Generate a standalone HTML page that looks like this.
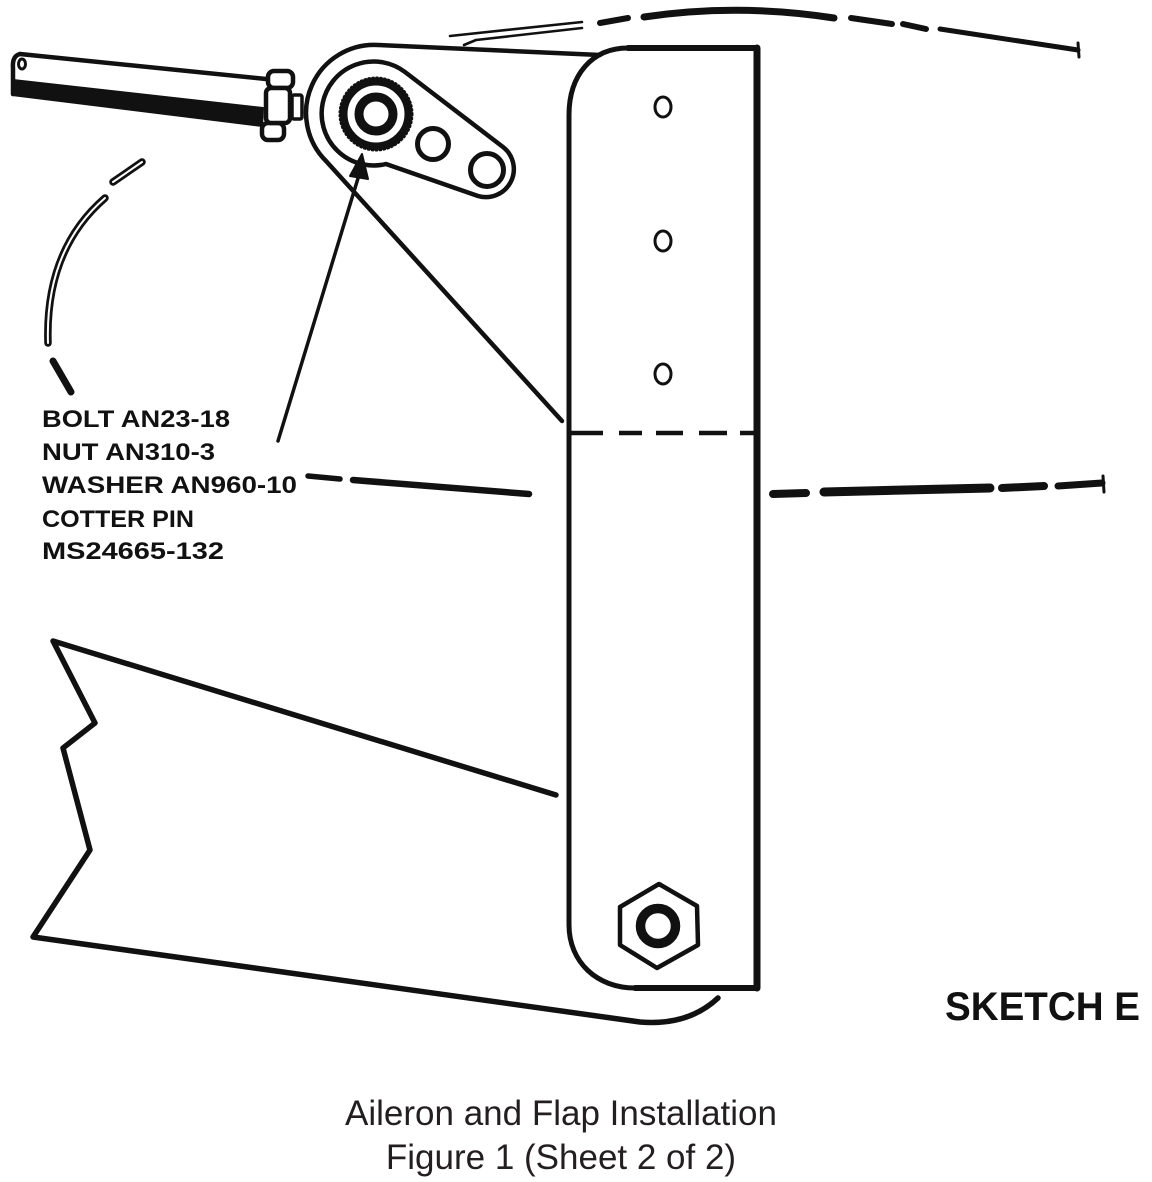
<!DOCTYPE html>
<html>
<head>
<meta charset="utf-8">
<style>
  html,body{margin:0;padding:0;background:#fff;}
  body{width:1152px;height:1182px;overflow:hidden;}
  svg{display:block;}
  .lbl{font-family:"Liberation Sans",Arial,sans-serif;font-weight:bold;font-size:24px;fill:#111;}
  .sk{font-family:"Liberation Sans",Arial,sans-serif;font-weight:bold;font-size:40px;fill:#111;}
  .cap{font-family:"Liberation Sans",Arial,sans-serif;font-size:35px;fill:#231f20;}
</style>
</head>
<body>
<svg width="1152" height="1182" viewBox="0 0 1152 1182" xmlns="http://www.w3.org/2000/svg">
  <rect width="1152" height="1182" fill="#fff"/>
  <g fill="none" stroke="#111" stroke-linecap="round" stroke-linejoin="round">
    <!-- top dashed arc -->
    <path d="M450,36 L582,22" stroke-width="2.6"/>
    <path d="M464,45 L476,40 L582,28" stroke-width="2.6"/>
    <path d="M600,23 L628,18" stroke-width="6"/>
    <path d="M644,17 Q738,3 834,18" stroke-width="7"/>
    <path d="M851,18 L892,24" stroke-width="6"/>
    <path d="M903,24 L926,29" stroke-width="6"/>
    <path d="M940,29 L1078,50" stroke-width="5"/>
    <path d="M1078,43 L1079,57" stroke-width="3"/>

    <!-- bar -->
    <path d="M569,115 C569,75 592,48 628,48 L757,48 L757,988 L635,988 C597,988 569,962 569,925 Z" stroke-width="5" fill="#fff"/>
    <path d="M757,48 L757,988" stroke-width="7"/>
    <path d="M757,988 L635,988" stroke-width="6"/>
    <path d="M628,48 L757,48" stroke-width="6"/>
    <!-- dashed line inside bar -->
    <path d="M571,433 L603,433 M619,433 L642,433 M656,433 L683,433 M699,433 L727,433 M740,433 L756,433" stroke-width="4.5" stroke-linecap="butt"/>
    <!-- holes -->
    <ellipse cx="663" cy="107" rx="8" ry="10" stroke-width="3"/>
    <ellipse cx="663" cy="241" rx="8" ry="10" stroke-width="3"/>
    <ellipse cx="663" cy="374" rx="8" ry="10" stroke-width="3"/>
    <!-- bottom nut -->
    <path d="M659,884 L697,906 L698,945 L657,968 L620,945 L620,907 Z" stroke-width="4.5"/>
    <circle cx="658" cy="926" r="17.5" stroke-width="9.5"/>

    <!-- plate outline -->
    <path d="M600,55 L378,45 A68,68 0 0 0 326,161 L562,421" stroke-width="4.5"/>

    <!-- arm -->
    <path d="M386,164 A52,52 0 1 1 405,72 L503,147 A28,28 0 0 1 478,196 Z" stroke-width="4.5"/>
    <!-- hub -->
    <circle cx="376" cy="114" r="32.5" stroke-width="8"/>
    <circle cx="376" cy="114" r="36.5" stroke-width="2" stroke-dasharray="1.5 2.5"/>
    <circle cx="376" cy="114" r="17" stroke-width="9"/>
    <!-- arm holes -->
    <circle cx="433" cy="144" r="15.5" stroke-width="5"/>
    <circle cx="487" cy="170" r="16.5" stroke-width="5"/>

    <!-- rod -->
    <path d="M20,54 L266,79" stroke-width="4.5"/>
    <path d="M20,54 Q12,56 13,68 L13,94" stroke-width="4.5"/>
    <path d="M13,80 L263,108 L262,126 L12,95 Z" fill="#111" stroke-width="2"/>
    <ellipse cx="22" cy="64" rx="3.5" ry="5" stroke-width="3" fill="#fff"/>
    <!-- jam nut -->
    <rect x="292" y="95" width="10" height="24" rx="2" stroke-width="3.5" fill="#fff"/>
    <rect x="262" y="123" width="22" height="17" rx="6" stroke-width="4.5" fill="#fff"/>
    <rect x="268" y="71" width="25" height="17" rx="6" stroke-width="4.5" fill="#fff"/>
    <rect x="266" y="88" width="24" height="35" rx="5" stroke-width="4.5" fill="#fff"/>

    <!-- arrow leader -->
    <path d="M278,441 L359,175" stroke-width="3.5"/>
    <path d="M362,154 L350,176 L368,179 Z" fill="#111" stroke-width="2"/>

    <!-- left double dashed arc -->
    <path d="M113,182 L142,162" stroke-width="7.5"/>
    <path d="M113,182 L142,162" stroke-width="2" stroke="#fff"/>
    <path d="M105,198 Q45,250 48,343" stroke-width="7.5"/>
    <path d="M105,198 Q45,250 48,343" stroke-width="2" stroke="#fff"/>
    <path d="M53,361 L71,392" stroke-width="7"/>

    <!-- middle dashed line left -->
    <path d="M308,476 L340,479" stroke-width="5.5"/>
    <path d="M353,480 L529,494" stroke-width="6.5"/>
    <!-- middle dashed line right -->
    <path d="M773,494 L806,493" stroke-width="8"/>
    <path d="M824,492 L990,488" stroke-width="9"/>
    <path d="M1002,488 L1044,486" stroke-width="8"/>
    <path d="M1058,486 L1102,483" stroke-width="7"/>
    <path d="M1103,476 L1104,492" stroke-width="3"/>

    <!-- lower wedge -->
    <path d="M556,795 L53,641 L95,723 L63,748 L90,850 L33,937 L640,1022 Q688,1026 718,998" stroke-width="5.5"/>
  </g>

  <!-- labels -->
  <text class="lbl" x="42" y="427" textLength="188" lengthAdjust="spacingAndGlyphs">BOLT AN23-18</text>
  <text class="lbl" x="42" y="460" textLength="173" lengthAdjust="spacingAndGlyphs">NUT AN310-3</text>
  <text class="lbl" x="42" y="493" textLength="255" lengthAdjust="spacingAndGlyphs">WASHER AN960-10</text>
  <text class="lbl" x="42" y="527" textLength="152" lengthAdjust="spacingAndGlyphs">COTTER PIN</text>
  <text class="lbl" x="42" y="559" textLength="182" lengthAdjust="spacingAndGlyphs">MS24665-132</text>

  <text class="sk" x="945" y="1020" textLength="195" lengthAdjust="spacingAndGlyphs">SKETCH E</text>

  <text class="cap" x="561" y="1125" text-anchor="middle">Aileron and Flap Installation</text>
  <text class="cap" x="561" y="1169" text-anchor="middle">Figure 1 (Sheet 2 of 2)</text>
</svg>
</body>
</html>
